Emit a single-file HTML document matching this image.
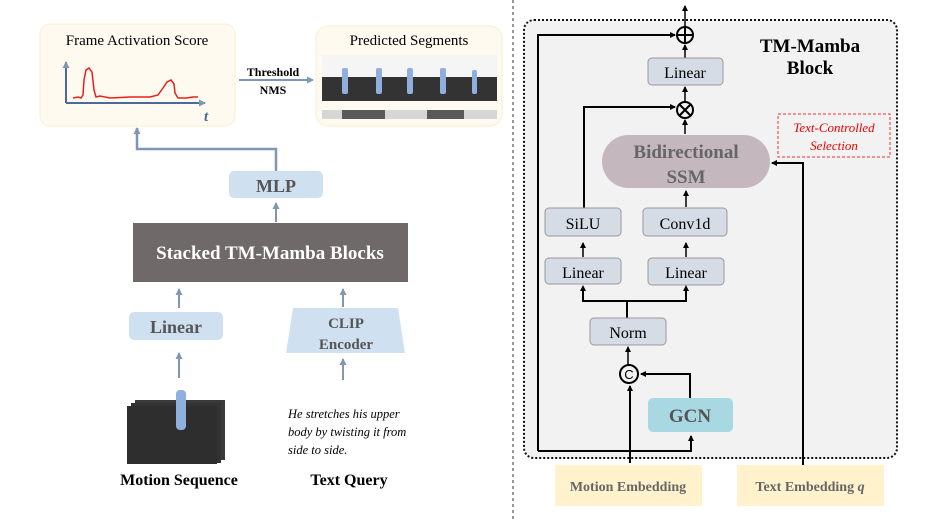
<!DOCTYPE html>
<html><head><meta charset="utf-8"><style>
html,body{margin:0;padding:0;background:#fff;}
svg{display:block;font-family:"Liberation Serif",serif;}
</style></head><body>
<svg width="941" height="522" viewBox="0 0 941 522" xmlns="http://www.w3.org/2000/svg">
<defs>
<marker id="ab" markerWidth="8" markerHeight="8" refX="6" refY="4" orient="auto" markerUnits="userSpaceOnUse"><path d="M0,0.5 L7,4 L0,7.5 z" fill="#7f96b4"/></marker>
<marker id="ak" markerWidth="6" markerHeight="6" refX="5" refY="3" orient="auto" markerUnits="userSpaceOnUse"><path d="M0,0 L6,3 L0,6 z" fill="#000"/></marker>
</defs>
<!-- LEFT -->
<rect x="40" y="24" width="195" height="102" rx="10" fill="#fffaf0" stroke="#fbefcf"/>
<text x="137" y="45" text-anchor="middle" font-size="15">Frame Activation Score</text>
<line x1="66" y1="103" x2="66" y2="62" stroke="#4a6a9a" stroke-width="2" marker-end="url(#ab)"/>
<line x1="66" y1="103" x2="205" y2="103" stroke="#4a6a9a" stroke-width="2" marker-end="url(#ab)"/>
<text x="204" y="121" font-size="15" font-style="italic" font-weight="bold" fill="#4a6a9a">t</text>
<path d="M73,98 L78,97 L81,98 L83,95 L84,80 L86,70 L89,68 L92,72 L94,90 L96,97 L100,96 L110,98 L130,97 L150,97 L158,95 L163,88 L167,82 L171,80 L174,84 L175,93 L178,98 L186,98 L193,97 L198,97" fill="none" stroke="#e8201a" stroke-width="1.5"/>
<text x="273" y="76" text-anchor="middle" font-size="12" font-weight="bold">Threshold</text>
<text x="273" y="94" text-anchor="middle" font-size="12" font-weight="bold">NMS</text>
<line x1="239" y1="80" x2="313" y2="80" stroke="#7f96b4" stroke-width="2" marker-end="url(#ab)"/>
<rect x="316" y="26" width="186" height="100" rx="12" fill="#fffaf0" stroke="#fbefcf"/>
<text x="409" y="45" text-anchor="middle" font-size="15">Predicted Segments</text>
<rect x="322" y="55" width="175" height="22" fill="#f5f5f5"/>
<rect x="322" y="77" width="175" height="24" fill="#333"/>
<g fill="#8fb0de">
<rect x="342" y="68" width="6" height="26" rx="2"/><rect x="376" y="68" width="6" height="26" rx="2"/><rect x="407" y="68" width="6" height="26" rx="2"/><rect x="440" y="68" width="6" height="26" rx="2"/><rect x="472" y="70" width="5" height="24" rx="2"/>
</g>
<rect x="322" y="110" width="175" height="9" fill="#d6d6d6"/>
<rect x="342" y="110" width="43" height="9" fill="#5a5a5a"/>
<rect x="427" y="110" width="37" height="9" fill="#5a5a5a"/>
<polyline points="276,171 276,149 137,149 137,128" fill="none" stroke="#7f96b4" stroke-width="2.5" marker-end="url(#ab)"/>
<rect x="229" y="171" width="94" height="27" rx="5" fill="#cfe1f1"/>
<text x="276" y="192" text-anchor="middle" font-size="18" font-weight="bold" fill="#555">MLP</text>
<line x1="276" y1="222" x2="276" y2="203" stroke="#7f96b4" stroke-width="2" marker-end="url(#ab)"/>
<rect x="133" y="223" width="275" height="59" fill="#6f6a69"/>
<text x="270" y="259" text-anchor="middle" font-size="19" font-weight="bold" fill="#fff">Stacked TM-Mamba Blocks</text>
<line x1="179" y1="308" x2="179" y2="289" stroke="#7f96b4" stroke-width="2" marker-end="url(#ab)"/>
<line x1="343" y1="307" x2="343" y2="289" stroke="#7f96b4" stroke-width="2" marker-end="url(#ab)"/>
<rect x="129" y="312" width="94" height="28" rx="5" fill="#cfe1f1"/>
<text x="176" y="333" text-anchor="middle" font-size="18" font-weight="bold" fill="#555">Linear</text>
<polygon points="293,308 398,308 405,353 286,353" fill="#cfe1f1"/>
<text x="346" y="328" text-anchor="middle" font-size="15" font-weight="bold" fill="#555">CLIP</text>
<text x="346" y="349" text-anchor="middle" font-size="15" font-weight="bold" fill="#555">Encoder</text>
<line x1="179" y1="378" x2="179" y2="353" stroke="#7f96b4" stroke-width="2" marker-end="url(#ab)"/>
<line x1="343" y1="380" x2="343" y2="359" stroke="#7f96b4" stroke-width="2" marker-end="url(#ab)"/>
<rect x="135" y="400" width="90" height="60" fill="#3a3a3a"/>
<rect x="131" y="403" width="90" height="60" fill="#333"/>
<rect x="127" y="406" width="90" height="58" fill="#2e2e2e"/>
<rect x="176" y="390" width="10" height="40" rx="4" fill="#8fb0de"/>
<text x="288" y="418" font-size="12.5" font-style="italic">He stretches his upper</text>
<text x="288" y="436" font-size="12.5" font-style="italic">body by twisting it from</text>
<text x="288" y="454" font-size="12.5" font-style="italic">side to side.</text>
<text x="179" y="485" text-anchor="middle" font-size="16" font-weight="bold">Motion Sequence</text>
<text x="349" y="485" text-anchor="middle" font-size="16" font-weight="bold">Text Query</text>
<line x1="513" y1="0" x2="513" y2="522" stroke="#333" stroke-width="1" stroke-dasharray="3,3"/>
<!-- RIGHT -->
<rect x="524" y="20" width="373" height="438" rx="10" fill="#f2f2f2" stroke="#111" stroke-width="2" stroke-dasharray="2,2"/>
<text x="810" y="52" text-anchor="middle" font-size="19" font-weight="bold">TM-Mamba</text>
<text x="810" y="74" text-anchor="middle" font-size="19" font-weight="bold">Block</text>
<line x1="685" y1="27" x2="685" y2="6" stroke="#000" stroke-width="1.5" marker-end="url(#ak)"/>
<circle cx="685" cy="35" r="8" fill="#f2f2f2" stroke="#000" stroke-width="2"/>
<line x1="677" y1="35" x2="693" y2="35" stroke="#000" stroke-width="2"/><line x1="685" y1="27" x2="685" y2="43" stroke="#000" stroke-width="2"/>
<line x1="685" y1="58" x2="685" y2="45" stroke="#000" stroke-width="1.5" marker-end="url(#ak)"/>
<rect x="648" y="58" width="75" height="27" rx="4" fill="#d6dce5" stroke="#999"/>
<text x="685" y="78" text-anchor="middle" font-size="16">Linear</text>
<line x1="685" y1="102" x2="685" y2="87" stroke="#000" stroke-width="1.5" marker-end="url(#ak)"/>
<circle cx="685" cy="110" r="8" fill="#f2f2f2" stroke="#000" stroke-width="2"/>
<line x1="679" y1="104" x2="691" y2="116" stroke="#000" stroke-width="2"/><line x1="691" y1="104" x2="679" y2="116" stroke="#000" stroke-width="2"/>
<line x1="685" y1="134" x2="685" y2="120" stroke="#000" stroke-width="1.5" marker-end="url(#ak)"/>
<rect x="602" y="135" width="168" height="53" rx="26.5" fill="#c4b7bd"/>
<text x="686" y="158" text-anchor="middle" font-size="19" font-weight="bold" fill="#666">Bidirectional</text>
<text x="686" y="183" text-anchor="middle" font-size="19" font-weight="bold" fill="#666">SSM</text>
<rect x="778" y="114" width="112" height="43" fill="none" stroke="#e33" stroke-dasharray="3,2"/>
<text x="834" y="132" text-anchor="middle" font-size="13" font-style="italic" fill="#e00">Text-Controlled</text>
<text x="834" y="150" text-anchor="middle" font-size="13" font-style="italic" fill="#e00">Selection</text>
<polyline points="803,465 803,163 772,163" fill="none" stroke="#000" stroke-width="2" marker-end="url(#ak)"/>
<polyline points="584,208 584,107 675,107" fill="none" stroke="#000" stroke-width="2" marker-end="url(#ak)"/>
<polyline points="538,451 538,35 675,35" fill="none" stroke="#000" stroke-width="2" marker-end="url(#ak)"/>
<line x1="686" y1="207" x2="686" y2="191" stroke="#000" stroke-width="1.5" marker-end="url(#ak)"/>
<rect x="545" y="208" width="76" height="28" rx="4" fill="#d6dce5" stroke="#999"/>
<text x="583" y="229" text-anchor="middle" font-size="16">SiLU</text>
<rect x="643" y="208" width="84" height="28" rx="4" fill="#d6dce5" stroke="#999"/>
<text x="685" y="229" text-anchor="middle" font-size="16">Conv1d</text>
<line x1="583" y1="257" x2="583" y2="243" stroke="#000" stroke-width="1.5" marker-end="url(#ak)"/>
<line x1="686" y1="257" x2="686" y2="243" stroke="#000" stroke-width="1.5" marker-end="url(#ak)"/>
<rect x="545" y="258" width="76" height="26" rx="4" fill="#d6dce5" stroke="#999"/>
<text x="583" y="278" text-anchor="middle" font-size="16">Linear</text>
<rect x="648" y="258" width="76" height="27" rx="4" fill="#d6dce5" stroke="#999"/>
<text x="686" y="278" text-anchor="middle" font-size="16">Linear</text>
<polyline points="583,288 583,301 686,301 686,288" fill="none" stroke="#000" stroke-width="2"/>
<path d="M580,291 L583,285 L586,291z M683,291 L686,285 L689,291z" fill="#000"/>
<line x1="627" y1="301" x2="627" y2="318" stroke="#000" stroke-width="2"/>
<rect x="590" y="318" width="76" height="27" rx="4" fill="#d6dce5" stroke="#999"/>
<text x="628" y="338" text-anchor="middle" font-size="16">Norm</text>
<line x1="628" y1="364" x2="628" y2="347" stroke="#000" stroke-width="1.5" marker-end="url(#ak)"/>
<circle cx="629" cy="374" r="9" fill="#f2f2f2" stroke="#000" stroke-width="2"/>
<text x="629" y="379" text-anchor="middle" font-size="13" font-family="Liberation Sans,sans-serif">C</text>
<polyline points="690,398 690,374 641,374" fill="none" stroke="#000" stroke-width="2" marker-end="url(#ak)"/>
<line x1="630" y1="463" x2="630" y2="386" stroke="#000" stroke-width="2" marker-end="url(#ak)"/>
<polyline points="538,451 691,451 691,436" fill="none" stroke="#000" stroke-width="2" marker-end="url(#ak)"/>
<rect x="648" y="398" width="85" height="34" rx="5" fill="#a8d9e3"/>
<text x="690" y="422" text-anchor="middle" font-size="19" font-weight="bold" fill="#555">GCN</text>
<rect x="555" y="465" width="147" height="41" fill="#fff2cc"/>
<text x="628" y="491" text-anchor="middle" font-size="14" font-weight="bold" fill="#666">Motion Embedding</text>
<rect x="737" y="465" width="147" height="41" fill="#fff2cc"/>
<text x="810" y="491" text-anchor="middle" font-size="14" font-weight="bold" fill="#666">Text Embedding <tspan font-style="italic">q</tspan></text>
</svg>
</body></html>
